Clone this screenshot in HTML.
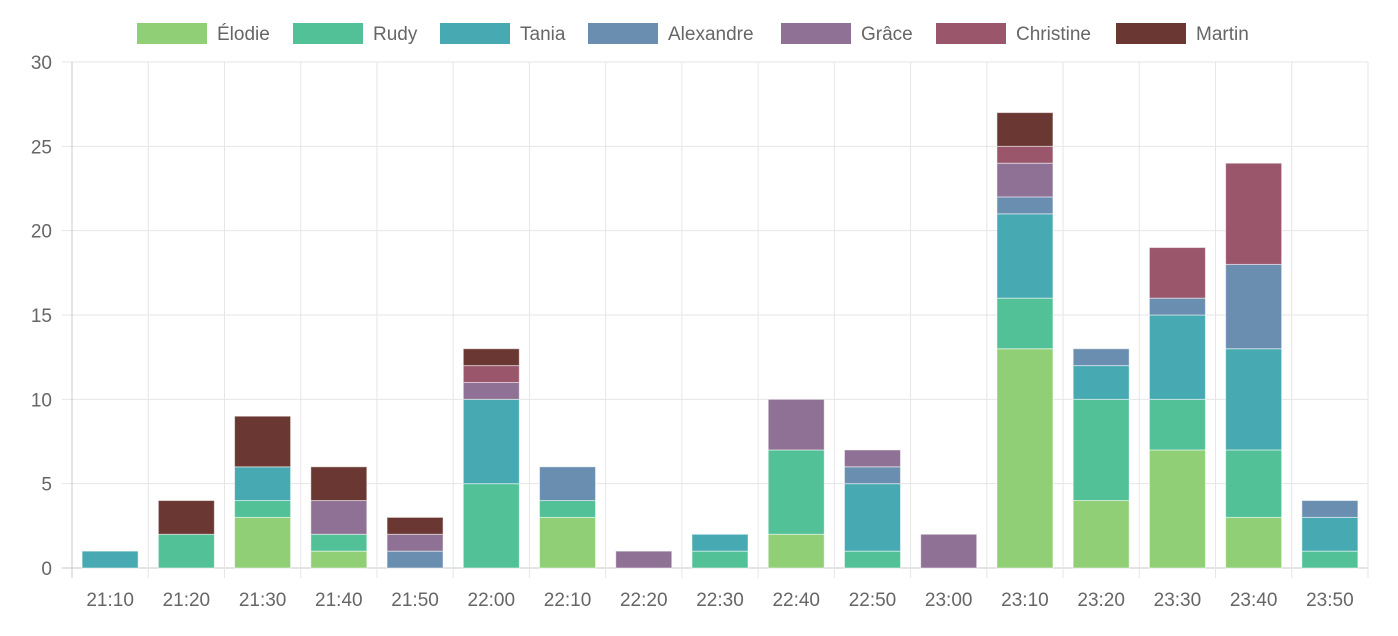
<!DOCTYPE html>
<html><head><meta charset="utf-8"><style>
html,body{margin:0;padding:0;background:#fff;}
svg text{font-family:"Liberation Sans",sans-serif;fill:#666;font-size:19px;}
</style></head><body>
<svg id="c" width="1398" height="631" xmlns="http://www.w3.org/2000/svg">
<g id="legend">
<rect x="137" y="23" width="70" height="21" fill="#91cf77"/><text x="217" y="40">Élodie</text>
<rect x="293" y="23" width="70" height="21" fill="#52c197"/><text x="373" y="40">Rudy</text>
<rect x="440" y="23" width="70" height="21" fill="#47a9b1"/><text x="520" y="40">Tania</text>
<rect x="588" y="23" width="70" height="21" fill="#6a8eb0"/><text x="668" y="40">Alexandre</text>
<rect x="781" y="23" width="70" height="21" fill="#8e7194"/><text x="861" y="40">Grâce</text>
<rect x="936" y="23" width="70" height="21" fill="#9a566b"/><text x="1016" y="40">Christine</text>
<rect x="1116" y="23" width="70" height="21" fill="#6a3732"/><text x="1196" y="40">Martin</text>
</g>
<g id="grid"></g>
<g id="bars"></g>
</svg>
<script>
const X0=72,X1=1368,Y0=568,Y30=62,u=(Y0-Y30)/30,n=17,cw=(X1-X0)/n;
const cols=["#91cf77","#52c197","#47a9b1","#6a8eb0","#8e7194","#9a566b","#6a3732"];
const labels=["21:10","21:20","21:30","21:40","21:50","22:00","22:10","22:20","22:30","22:40","22:50","23:00","23:10","23:20","23:30","23:40","23:50"];
const data=[
[0,0,1,0,0,0,0],[0,2,0,0,0,0,2],[3,1,2,0,0,0,3],[1,1,0,0,2,0,2],[0,0,0,1,1,0,1],
[0,5,5,0,1,1,1],[3,1,0,2,0,0,0],[0,0,0,0,1,0,0],[0,1,1,0,0,0,0],[2,5,0,0,3,0,0],
[0,1,4,1,1,0,0],[0,0,0,0,2,0,0],[13,3,5,1,2,1,2],[4,6,2,1,0,0,0],[7,3,5,1,0,3,0],
[3,4,6,5,0,6,0],[0,1,2,1,0,0,0]];
let g="";
for(let i=0;i<=30;i+=5){const y=Y0-i*u;g+=`<line x1="62" x2="${X1}" y1="${y}" y2="${y}" stroke="${i?'#e6e6e6':'#c8c8c8'}"/>`;
g+=`<text x="52" y="${y+7}" text-anchor="end">${i}</text>`;}
for(let k=0;k<=n;k++){const x=X0+k*cw;g+=`<line x1="${x}" x2="${x}" y1="${Y30}" y2="578" stroke="${k?'#e6e6e6':'#c8c8c8'}"/>`;}
labels.forEach((l,k)=>{g+=`<text x="${X0+(k+.5)*cw}" y="606" text-anchor="middle">${l}</text>`;});
document.getElementById("grid").innerHTML=g;
let b="";const bw=56;
data.forEach((d,k)=>{let acc=0;const x=X0+(k+.5)*cw-bw/2;
d.forEach((v,s)=>{if(!v)return;const y=Y0-(acc+v)*u;b+=`<rect x="${x}" y="${y}" width="${bw}" height="${v*u}" fill="${cols[s]}" stroke="#fff" stroke-opacity="0.5" stroke-width="1"/>`;acc+=v;});});
document.getElementById("bars").innerHTML=b;
</script>
</body></html>
